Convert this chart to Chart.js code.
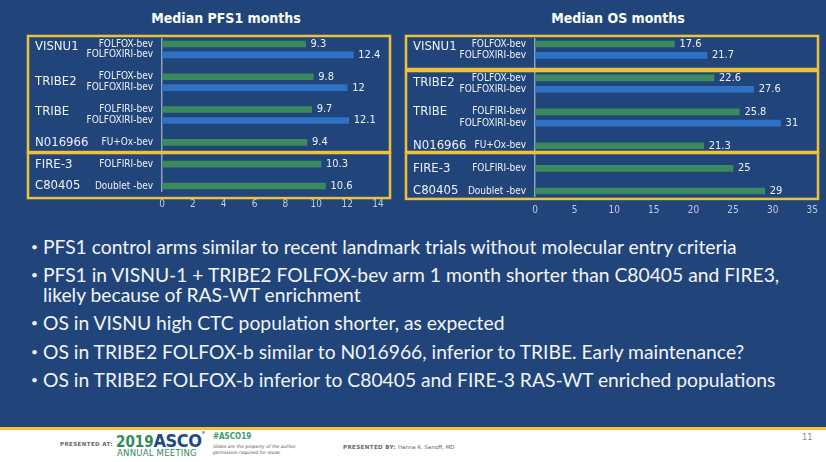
<!DOCTYPE html>
<html>
<head>
<meta charset="utf-8">
<script src="https://cdn.jsdelivr.net/npm/chart.js@4.4.1/dist/chart.umd.min.js"></script>
<style>
html,body{margin:0;padding:0;}
body{width:826px;height:462px;position:relative;overflow:hidden;background:#ffffff;}
#slide{position:absolute;left:0;top:0;width:826px;height:427px;background:#21457a;}
#gold{position:absolute;left:0;top:427px;width:826px;height:3px;background:#efc23a;}
.wrap{position:absolute;top:0;height:215px;}
.title{position:absolute;top:10px;color:#ffffff;font:bold 14px "DejaVu Sans Condensed","DejaVu Sans",sans-serif;white-space:nowrap;transform:translateX(-50%);}
.bul{position:absolute;left:43px;color:#f2f4f8;font-family:Lato,"Open Sans",sans-serif;font-size:18px;line-height:20px;white-space:nowrap;}
.bul:before{content:"\2022";position:absolute;left:-12px;top:0;font-size:12px;}
.ft{position:absolute;white-space:nowrap;}
</style>
</head>
<body>
<div id="slide"></div>
<div id="gold"></div>
<div class="title" style="left:226px;">Median PFS1 months</div>
<div class="title" style="left:618px;">Median OS months</div>
<div class="wrap" style="left:0;width:400px;"><canvas id="pfs"></canvas></div>
<div class="wrap" style="left:400px;width:426px;"><canvas id="os"></canvas></div>

<div class="bul" id="b1" style="top:237px;">PFS1 control arms similar to recent landmark trials without molecular entry criteria</div>
<div class="bul" style="top:265px;">PFS1 in VISNU-1 + TRIBE2 FOLFOX-bev arm 1 month shorter than C80405 and FIRE3,<br>likely because of RAS-WT enrichment</div>
<div class="bul" style="top:313px;">OS in VISNU high CTC population shorter, as expected</div>
<div class="bul" style="top:342px;">OS in TRIBE2 FOLFOX-b similar to N016966, inferior to TRIBE. Early maintenance?</div>
<div class="bul" style="top:370px;">OS in TRIBE2 FOLFOX-b inferior to C80405 and FIRE-3 RAS-WT enriched populations</div>

<div class="ft" style="left:60px;top:441px;font:bold 5.5px 'DejaVu Sans',sans-serif;color:#666;letter-spacing:0.4px;">PRESENTED AT:</div>
<div class="ft" style="left:116px;top:430px;font:bold 15px 'Liberation Sans Narrow','DejaVu Sans Condensed',sans-serif;color:#2f8a5c;">2019<span style="font-size:18px;color:#1d4b82;letter-spacing:-0.5px;">ASCO</span><span style="font-size:4px;color:#1d4b82;vertical-align:top;">®</span></div>
<div class="ft" style="left:117px;top:447px;font:9.5px 'Liberation Sans Narrow','DejaVu Sans Condensed',sans-serif;color:#2f8a5c;letter-spacing:0.2px;">ANNUAL MEETING</div>
<div class="ft" style="left:213px;top:432px;font:bold 8px 'DejaVu Sans Condensed',sans-serif;color:#3a9a70;">#ASCO19</div>
<div class="ft" style="left:213px;top:444px;font:italic 4.5px 'DejaVu Sans',sans-serif;color:#555;line-height:5.5px;">Slides are the property of the author,<br>permission required for reuse.</div>
<div class="ft" style="left:343px;top:444px;font:5.5px 'DejaVu Sans',sans-serif;color:#666;"><b style="letter-spacing:0.4px;">PRESENTED BY:</b> Hanna K. Sanoff, MD</div>
<div class="ft" style="left:802px;top:432px;font:9px 'DejaVu Sans Condensed',sans-serif;color:#8a8a8a;">11</div>

<script>
// ---------- data ----------
const armLabels = ["FOLFOX-bev","FOLFOXIRI-bev","","FOLFOX-bev","FOLFOXIRI-bev","","FOLFIRI-bev","FOLFOXIRI-bev","","FU+Ox-bev","","FOLFIRI-bev","","Doublet -bev"];
const pfsControl    = [9.3, null, null, 9.8, null, null, 9.7, null, null, 9.4, null, 10.3, null, 10.6];
const pfsFolfoxiri  = [null, 12.4, null, null, 12, null, null, 12.1, null, null, null, null, null, null];
const osControl     = [17.6, null, null, 22.6, null, null, 25.8, null, null, 21.3, null, 25, null, 29];
const osFolfoxiri   = [null, 21.7, null, null, 27.6, null, null, 31, null, null, null, null, null, null];
const studies = ["VISNU1","TRIBE2","TRIBE","N016966","FIRE-3","C80405"];
const pfsAxis = {max: 14, step: 2};
const osAxis  = {max: 35, step: 5};

// ---------- layout (positions/styles) ----------
const GREEN = "#3b8a5e", BLUE = "#2f71c3", GOLD = "#efc23a", TXT = "#eef1f7", TICK = "#c4cce0";
const layoutPFS = {w:400, h:215, area:{left:162, top:38.5, right:378, bottom:191.5},
  studyRows:[0.27,3.48,6.2,9,11,13], studyX:35, boxes:[[-0.73,9.89],[9.98,14.1]], boxX:[28,390], tickPad:7};
const layoutOS = {w:426, h:215, area:{left:135, top:38.35, right:413, bottom:196.65},
  studyRows:[0.27,3.45,6.0,9,11,13], studyX:13, boxes:[[-0.71,2.21],[2.39,9.55],[9.64,13.7]], boxX:[6,418], tickPad:8};

const FONT = '"DejaVu Sans Condensed","DejaVu Sans",sans-serif';

const decoPlugin = {
  id: 'deco',
  afterDraw(chart) {
    const L = chart.options.plugins.deco;
    const ctx = chart.ctx, y = chart.scales.y;
    ctx.save();
    ctx.strokeStyle = GOLD; ctx.lineWidth = 2.5;
    L.boxes.forEach(b => {
      const t = y.getPixelForValue(b[0]), bt = y.getPixelForValue(b[1]);
      ctx.strokeRect(L.boxX[0], t, L.boxX[1] - L.boxX[0], bt - t);
    });
    ctx.fillStyle = TXT; ctx.font = '13px ' + FONT; ctx.textAlign = 'left'; ctx.textBaseline = 'middle';
    studies.forEach((s, i) => ctx.fillText(s, L.studyX, y.getPixelForValue(L.studyRows[i])));
    ctx.font = '11px ' + FONT; ctx.fillStyle = TXT;
    chart.data.datasets.forEach((ds, di) => {
      const meta = chart.getDatasetMeta(di);
      meta.data.forEach((el, i) => {
        const v = ds.data[i];
        if (v === null || v === undefined) return;
        ctx.fillText(String(v), el.x + 5, el.y);
      });
    });
    ctx.restore();
  }
};

function makeChart(id, L, control, folfoxiri, axis) {
  const el = document.getElementById(id);
  el.parentNode.style.width = L.w + 'px';
  return new Chart(el, {
    type: 'bar',
    data: {
      labels: armLabels,
      datasets: [
        {label: 'Control', data: control, backgroundColor: GREEN, grouped: false, barThickness: 6},
        {label: 'FOLFOXIRI', data: folfoxiri, backgroundColor: BLUE, grouped: false, barThickness: 6}
      ]
    },
    options: {
      indexAxis: 'y',
      responsive: true,
      maintainAspectRatio: false,
      animation: false,
      layout: {padding: {top: L.area.top, right: L.w - L.area.right, left: 0, bottom: 0}},
      plugins: {legend: {display: false}, tooltip: {enabled: false}, deco: L},
      scales: {
        x: {
          min: 0, max: axis.max,
          ticks: {stepSize: axis.step, color: TICK, font: {family: FONT, size: 10}, padding: L.tickPad},
          grid: {display: false, drawTicks: false},
          border: {display: false},
          afterFit(s) { s.height = L.h - L.area.bottom; }
        },
        y: {
          ticks: {color: TXT, font: {family: FONT, size: 10}, padding: 9, autoSkip: false},
          grid: {display: false, drawTicks: false},
          border: {display: true, color: '#8ea2c4', width: 1.5},
          afterFit(s) { s.width = L.area.left; }
        }
      }
    },
    plugins: [decoPlugin]
  });
}

makeChart('pfs', layoutPFS, pfsControl, pfsFolfoxiri, pfsAxis);
makeChart('os', layoutOS, osControl, osFolfoxiri, osAxis);

(function(){
  const b1 = document.getElementById('b1');
  const w = b1.getBoundingClientRect().width;
  const target = 694;
  const fs = 18 * target / w;
  document.querySelectorAll('.bul').forEach(d => { d.style.fontSize = fs.toFixed(2) + 'px'; });
})();
</script>
</body>
</html>
